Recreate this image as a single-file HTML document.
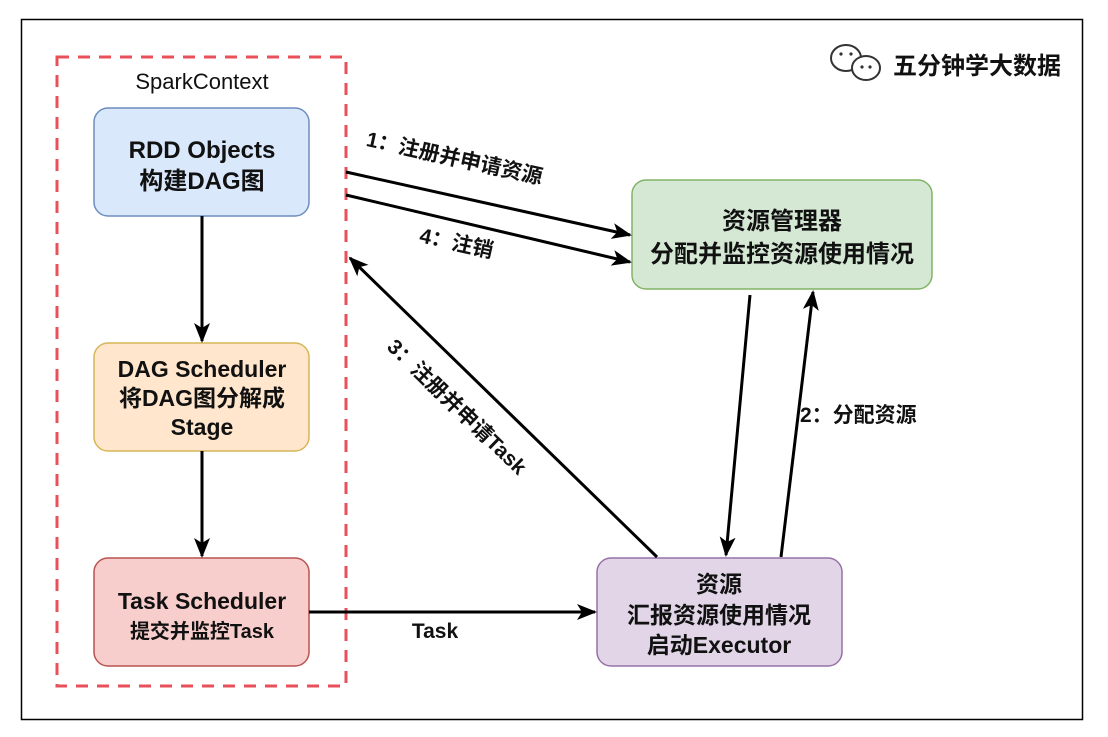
<!DOCTYPE html>
<html><head><meta charset="utf-8"><style>
body{margin:0;background:#fff;}
svg text{font-family:"Liberation Sans","Noto Sans CJK SC",sans-serif;fill:#111;font-weight:bold;}
</style></head><body>
<svg width="1108" height="732" viewBox="0 0 1108 732" xmlns="http://www.w3.org/2000/svg">
<defs>
<marker id="b" markerWidth="20" markerHeight="20" refX="18" refY="10" orient="auto" markerUnits="userSpaceOnUse" viewBox="0 0 20 20"><path d="M0,2 L20,10 L0,18 L5,10 z" fill="#000"/></marker></defs>
<rect x="21.5" y="19.5" width="1061" height="700" fill="#fff" stroke="#000" stroke-width="1.5"/>
<rect x="57" y="57" width="289" height="629" fill="none" stroke="#e8505a" stroke-width="3" stroke-dasharray="12,9"/>
<text x="202" y="89" font-size="22" text-anchor="middle" style="font-weight:normal">SparkContext</text>
<rect x="94" y="108" width="215" height="108" rx="14" fill="#dae8fc" stroke="#6c8ebf" stroke-width="1.5"/>
<text x="202" y="158" font-size="24" text-anchor="middle">RDD Objects</text>
<text x="202" y="189" font-size="24" text-anchor="middle">构建DAG图</text>
<rect x="94" y="343" width="215" height="108" rx="14" fill="#ffe6cc" stroke="#d6b656" stroke-width="1.5"/>
<text x="202" y="377" font-size="23" text-anchor="middle">DAG Scheduler</text>
<text x="202" y="406" font-size="23" text-anchor="middle">将DAG图分解成</text>
<text x="202" y="435" font-size="23" text-anchor="middle">Stage</text>
<rect x="94" y="558" width="215" height="108" rx="14" fill="#f8cecc" stroke="#b85450" stroke-width="1.5"/>
<text x="202" y="609" font-size="23" text-anchor="middle">Task Scheduler</text>
<text x="202" y="638" font-size="20" text-anchor="middle">提交并监控Task</text>
<rect x="632" y="180" width="300" height="109" rx="14" fill="#d5e8d4" stroke="#82b366" stroke-width="1.5"/>
<text x="782" y="229" font-size="24" text-anchor="middle">资源管理器</text>
<text x="782" y="262" font-size="24" text-anchor="middle">分配并监控资源使用情况</text>
<rect x="597" y="558" width="245" height="108" rx="14" fill="#e1d5e7" stroke="#9673a6" stroke-width="1.5"/>
<text x="719" y="592" font-size="23" text-anchor="middle">资源</text>
<text x="719" y="623" font-size="23" text-anchor="middle">汇报资源使用情况</text>
<text x="719" y="653" font-size="23" text-anchor="middle">启动Executor</text>
<g stroke="#000" stroke-width="3" fill="none">
<line x1="202" y1="216" x2="202" y2="341" marker-end="url(#b)"/>
<line x1="202" y1="451" x2="202" y2="556" marker-end="url(#b)"/>
<line x1="309" y1="612" x2="595" y2="612" marker-end="url(#b)"/>
<line x1="346" y1="172" x2="630" y2="235" marker-end="url(#b)"/>
<line x1="346" y1="195" x2="630" y2="262" marker-end="url(#b)"/>
<line x1="657" y1="557" x2="350" y2="258" marker-end="url(#b)"/>
<line x1="750" y1="295" x2="726" y2="555" marker-end="url(#b)"/>
<line x1="781" y1="557" x2="813" y2="292" marker-end="url(#b)"/>
</g>
<text x="435" y="638" font-size="21" text-anchor="middle">Task</text>
<text transform="translate(453,165) rotate(12.4)" font-size="21" text-anchor="middle">1：注册并申请资源</text>
<text transform="translate(455,250) rotate(12.4)" font-size="21" text-anchor="middle">4：注销</text>
<text transform="translate(452,412) rotate(44)" font-size="21" text-anchor="middle">3：注册并申请Task</text>
<text x="800" y="422" font-size="21">2：分配资源</text>
<g fill="#fff" stroke="#333" stroke-width="2">
<ellipse cx="846" cy="58" rx="15" ry="13"/>
<ellipse cx="866" cy="68" rx="14" ry="12"/>
</g>
<g fill="#333"><circle cx="841" cy="54" r="1.6"/><circle cx="851" cy="54" r="1.6"/><circle cx="862" cy="67" r="1.6"/><circle cx="870" cy="67" r="1.6"/></g>
<text x="893" y="74" font-size="24">五分钟学大数据</text>
</svg>
</body></html>
